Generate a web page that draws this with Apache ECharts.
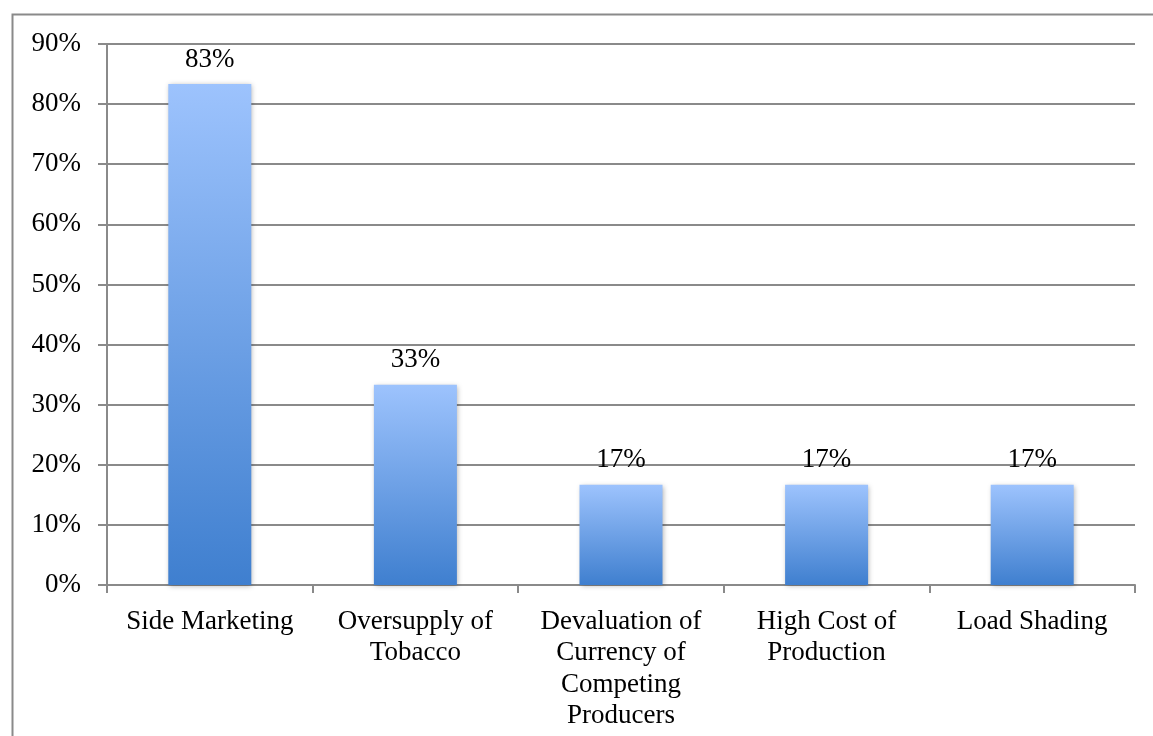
<!DOCTYPE html>
<html>
<head>
<meta charset="utf-8">
<script src="https://cdn.jsdelivr.net/npm/echarts@6/dist/echarts.min.js"></script>
<style>
  html, body { margin: 0; padding: 0; background: #ffffff; }
  #chart { width: 1153px; height: 736px; }
</style>
</head>
<body>
<div id="chart"></div>
<script>
// Reasons cited (share of respondents, %)
const categories = [
  'Side Marketing',
  'Oversupply of\nTobacco',
  'Devaluation of\nCurrency of\nCompeting\nProducers',
  'High Cost of\nProduction',
  'Load Shading'
];
const shares = [83.33, 33.33, 16.67, 16.67, 16.67];
const yTicks = { min: 0, max: 90, step: 10 };

const FONT = '"Liberation Serif", "DejaVu Serif", serif';
const FONT_SIZE = 27;
const chart = echarts.init(document.getElementById('chart'), null, { renderer: 'canvas' });

chart.setOption({
  backgroundColor: '#ffffff',
  animation: false,
  graphic: [{
    type: 'rect',
    shape: { x: 12.5, y: 14.5, width: 1160, height: 760 },
    style: { fill: 'none', stroke: '#8a8a8a', lineWidth: 2 },
    silent: true
  }],
  grid: { left: 107, right: 18, top: 44, bottom: 151, containLabel: false },
  xAxis: {
    type: 'category',
    data: categories,
    axisLine: { show: true, lineStyle: { color: '#8a8a8a', width: 2 } },
    axisTick: { show: true, length: 8, alignWithLabel: false, lineStyle: { color: '#8a8a8a', width: 2 } },
    axisLabel: {
      interval: 0,
      margin: 21,
      color: '#000000',
      fontFamily: FONT,
      fontSize: FONT_SIZE,
      lineHeight: 31.5
    }
  },
  yAxis: {
    type: 'value',
    min: yTicks.min,
    max: yTicks.max,
    interval: yTicks.step,
    axisLine: { show: true, lineStyle: { color: '#8a8a8a', width: 2 } },
    axisTick: { show: true, length: 9, lineStyle: { color: '#8a8a8a', width: 2 } },
    splitLine: { show: true, lineStyle: { color: '#8a8a8a', width: 2 } },
    axisLabel: {
      margin: 26,
      color: '#000000',
      fontFamily: FONT,
      fontSize: FONT_SIZE,
      formatter: v => v + '%'
    }
  },
  series: [{
    type: 'bar',
    data: shares,
    barWidth: 83,
    itemStyle: {
      color: new echarts.graphic.LinearGradient(0, 0, 0, 1, [
        { offset: 0, color: '#9dc3fd' },
        { offset: 1, color: '#3f7fcf' }
      ]),
      shadowBlur: 5,
      shadowOffsetX: 1,
      shadowOffsetY: 1,
      shadowColor: 'rgba(0,0,0,0.3)'
    },
    label: {
      show: true,
      position: 'top',
      distance: 11,
      color: '#000000',
      fontFamily: FONT,
      fontSize: FONT_SIZE,
      formatter: p => Math.round(p.value) + '%'
    }
  }]
});
</script>
</body>
</html>
